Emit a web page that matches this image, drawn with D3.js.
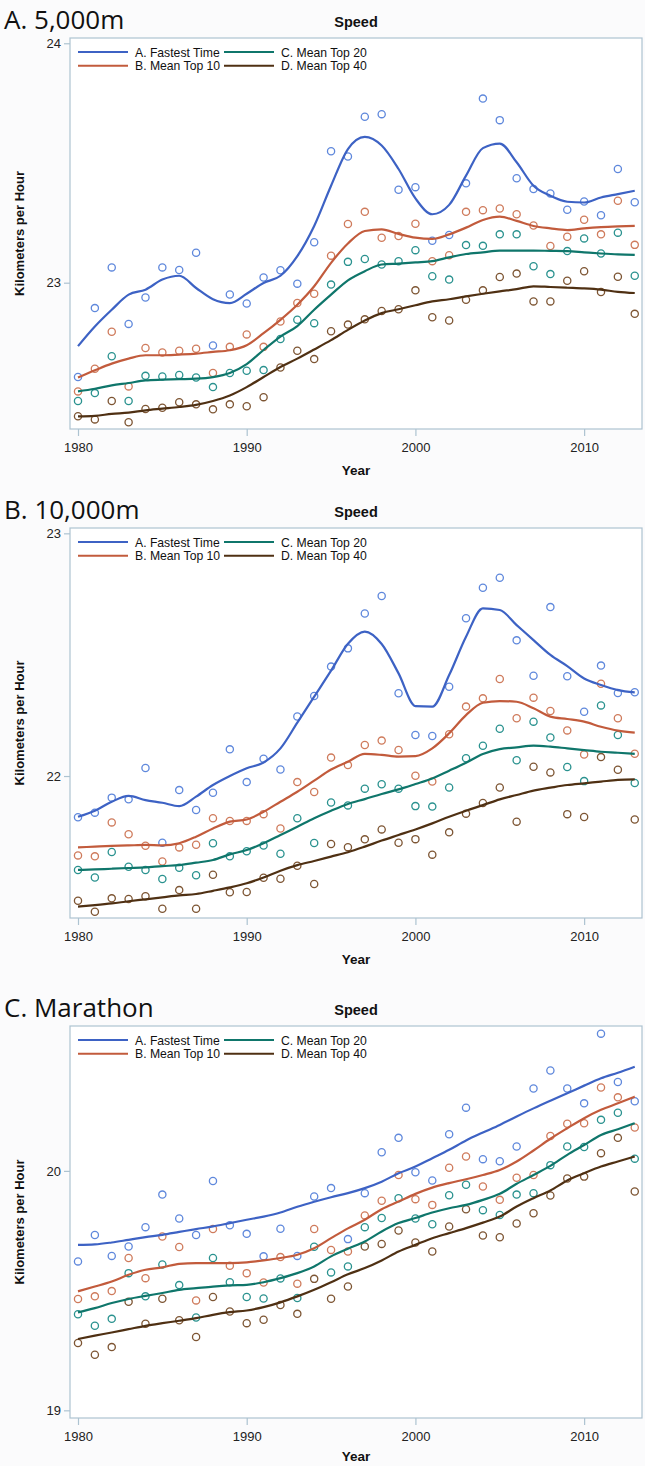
<!DOCTYPE html>
<html><head><meta charset="utf-8">
<script src="https://cdn.jsdelivr.net/npm/d3@7"></script>
<style>
html,body{margin:0;padding:0;background:#fbfbfc;}
svg{display:block;}
</style></head>
<body>
<script>
// ---------- DATA ----------
const years = d3.range(1980, 2014);
const xTicks = [1980, 1990, 2000, 2010];
const seriesNames = ["A. Fastest Time", "B. Mean Top 10", "C. Mean Top 20", "D. Mean Top 40"];

// 5,000m — observed points
const m5k_fastPts = [22.606,22.894,23.064,22.828,22.938,23.064,23.053,23.125,22.738,22.951,22.913,23.022,23.052,22.996,23.169,23.549,23.527,23.693,23.704,23.388,23.399,23.175,23.199,23.415,23.769,23.679,23.436,23.391,23.373,23.305,23.339,23.282,23.475,23.336];
const m5k_top10Pts = [22.546,22.641,22.795,22.567,22.727,22.709,22.716,22.724,22.623,22.732,22.784,22.732,22.838,22.915,22.954,23.113,23.245,23.296,23.188,23.195,23.246,23.090,23.115,23.296,23.303,23.310,23.286,23.239,23.153,23.192,23.263,23.202,23.342,23.158];
const m5k_top20Pts = [22.506,22.539,22.693,22.506,22.611,22.608,22.615,22.604,22.564,22.623,22.632,22.635,22.765,22.845,22.831,22.992,23.087,23.099,23.076,23.090,23.136,23.027,23.013,23.157,23.154,23.202,23.202,23.069,23.036,23.132,23.185,23.122,23.209,23.029];
const m5k_top40Pts = [22.442,22.429,22.506,22.417,22.473,22.478,22.501,22.492,22.471,22.492,22.484,22.522,22.646,22.716,22.681,22.797,22.825,22.847,22.882,22.889,22.968,22.856,22.842,22.929,22.968,23.024,23.038,22.922,22.922,23.008,23.048,22.961,23.025,22.870];
// 5,000m — smoothed curves
const m5k_fastFit = [22.735,22.817,22.887,22.950,22.971,23.013,23.029,22.978,22.931,22.915,22.954,22.999,23.029,23.111,23.237,23.405,23.558,23.609,23.573,23.475,23.352,23.286,23.325,23.447,23.562,23.581,23.503,23.405,23.363,23.338,23.335,23.356,23.370,23.384];
const m5k_top10Fit = [22.604,22.634,22.662,22.683,22.697,22.697,22.700,22.704,22.711,22.718,22.739,22.789,22.845,22.908,22.985,23.083,23.164,23.216,23.223,23.204,23.188,23.183,23.202,23.230,23.262,23.276,23.258,23.237,23.227,23.220,23.227,23.232,23.235,23.237];
const m5k_top20Fit = [22.546,22.557,22.571,22.581,22.592,22.595,22.597,22.599,22.606,22.623,22.660,22.719,22.775,22.819,22.887,22.950,23.010,23.048,23.076,23.080,23.085,23.090,23.106,23.120,23.127,23.134,23.134,23.134,23.133,23.132,23.127,23.122,23.118,23.116];
const m5k_top40Fit = [22.442,22.444,22.452,22.457,22.467,22.474,22.481,22.490,22.506,22.529,22.564,22.606,22.648,22.683,22.721,22.760,22.803,22.842,22.873,22.889,22.906,22.922,22.931,22.943,22.954,22.964,22.973,22.985,22.982,22.979,22.976,22.971,22.962,22.957];

// 10,000m — observed points
const m10k_fastPts = [21.830,21.849,21.911,21.904,22.033,21.725,21.942,21.860,21.931,22.110,21.975,22.071,22.027,22.245,22.330,22.451,22.526,22.670,22.742,22.341,22.169,22.165,22.368,22.650,22.776,22.817,22.559,22.413,22.696,22.411,22.265,22.455,22.342,22.345];
const m10k_top10Pts = [21.673,21.669,21.809,21.760,21.713,21.648,21.706,21.717,21.826,21.815,21.815,21.843,21.784,21.975,21.934,22.076,22.045,22.128,22.146,22.107,22.001,21.977,22.172,22.286,22.320,22.400,22.238,22.323,22.268,22.188,22.089,22.380,22.238,22.092];
const m10k_top20Pts = [21.613,21.582,21.687,21.626,21.613,21.576,21.622,21.591,21.723,21.669,21.690,21.714,21.680,21.826,21.724,21.891,21.879,21.948,21.966,21.948,21.876,21.874,21.953,22.073,22.125,22.195,22.065,22.224,22.159,22.037,21.979,22.291,22.169,21.971];
const m10k_top40Pts = [21.486,21.441,21.496,21.493,21.505,21.453,21.530,21.453,21.593,21.521,21.522,21.581,21.577,21.630,21.555,21.720,21.707,21.739,21.780,21.725,21.740,21.676,21.768,21.845,21.889,21.953,21.812,22.038,22.015,21.843,21.831,22.078,22.026,21.821];
// 10,000m — smoothed curves
const m10k_fastFit = [21.832,21.857,21.894,21.918,21.901,21.890,21.876,21.915,21.963,22.000,22.032,22.056,22.114,22.220,22.327,22.434,22.545,22.595,22.544,22.423,22.288,22.286,22.416,22.574,22.691,22.684,22.622,22.560,22.499,22.453,22.402,22.375,22.354,22.345];
const m10k_top10Fit = [21.706,21.709,21.712,21.714,21.716,21.714,21.723,21.750,21.784,21.812,21.821,21.853,21.894,21.935,21.981,22.027,22.059,22.091,22.087,22.080,22.082,22.114,22.176,22.251,22.302,22.309,22.306,22.279,22.245,22.235,22.224,22.203,22.187,22.179];
const m10k_top20Fit = [21.613,21.615,21.618,21.621,21.624,21.629,21.633,21.643,21.654,21.677,21.695,21.723,21.757,21.791,21.826,21.857,21.885,21.905,21.926,21.945,21.967,21.990,22.022,22.055,22.091,22.111,22.118,22.125,22.121,22.114,22.107,22.100,22.096,22.091];
const m10k_top40Fit = [21.462,21.468,21.475,21.484,21.492,21.500,21.508,21.514,21.527,21.541,21.558,21.582,21.610,21.633,21.650,21.668,21.686,21.709,21.734,21.757,21.780,21.805,21.832,21.857,21.880,21.904,21.922,21.940,21.952,21.963,21.970,21.977,21.984,21.986];

// Marathon — observed points
const mar_fastPts = [19.622,19.732,19.645,19.684,19.765,19.901,19.801,19.732,19.958,19.773,19.737,19.643,19.758,19.645,19.893,19.928,19.715,19.907,20.078,20.138,19.994,19.960,20.153,20.264,20.049,20.040,20.102,20.344,20.419,20.344,20.282,20.573,20.371,20.291];
const mar_top10Pts = [19.465,19.476,19.498,19.636,19.552,19.726,19.682,19.459,19.757,19.604,19.573,19.534,19.640,19.529,19.757,19.670,19.663,19.814,19.875,19.983,19.882,19.858,20.013,20.060,19.935,19.879,19.971,19.983,20.146,20.197,20.199,20.348,20.307,20.181];
const mar_top20Pts = [19.401,19.353,19.382,19.573,19.476,19.609,19.523,19.388,19.636,19.535,19.473,19.467,19.551,19.469,19.683,19.576,19.601,19.765,19.803,19.886,19.801,19.777,19.898,19.942,19.836,19.816,19.901,19.907,20.024,20.102,20.100,20.213,20.243,20.051];
const mar_top40Pts = [19.281,19.232,19.264,19.453,19.362,19.466,19.376,19.306,19.473,19.413,19.364,19.378,19.440,19.403,19.549,19.466,19.517,19.684,19.695,19.751,19.701,19.663,19.768,19.840,19.730,19.723,19.780,19.823,19.897,19.968,19.976,20.074,20.138,19.914];
// Marathon — smoothed curves
const mar_fastFit = [19.691,19.693,19.701,19.712,19.723,19.733,19.745,19.757,19.768,19.782,19.796,19.809,19.826,19.850,19.871,19.890,19.907,19.928,19.955,19.990,20.018,20.053,20.088,20.127,20.160,20.192,20.227,20.261,20.293,20.324,20.356,20.387,20.410,20.435];
const mar_top10Fit = [19.497,19.517,19.538,19.566,19.587,19.597,19.612,19.615,19.615,19.615,19.618,19.626,19.636,19.650,19.677,19.719,19.760,19.796,19.840,19.872,19.904,19.930,19.949,19.965,19.983,20.004,20.039,20.085,20.134,20.178,20.220,20.255,20.282,20.310];
const mar_top20Fit = [19.409,19.427,19.448,19.465,19.478,19.490,19.503,19.510,19.517,19.522,19.524,19.535,19.552,19.573,19.601,19.643,19.675,19.705,19.747,19.782,19.803,19.826,19.844,19.858,19.879,19.904,19.946,19.983,20.021,20.067,20.108,20.150,20.174,20.199];
const mar_top40Fit = [19.298,19.312,19.325,19.339,19.353,19.364,19.374,19.385,19.399,19.410,19.417,19.431,19.451,19.476,19.504,19.535,19.568,19.594,19.626,19.663,19.691,19.719,19.740,19.761,19.784,19.809,19.851,19.886,19.918,19.960,19.990,20.018,20.039,20.060];

// panel titles, y domains (frame extent) and y ticks
const panelTitles = ["A. 5,000m", "B. 10,000m", "C. Marathon"];
const yDomains = [[22.389, 24.022], [21.415, 23.022], [18.968, 20.605]];
const yTicks = [[23, 24], [22, 23], [19, 20]];

// ---------- STYLE / LAYOUT ----------
const W = 645, H = 1466;
const lineColors = ["#3d62c4", "#c25b3c", "#0f766b", "#4f3013"];
const markColors = ["#5f88dc", "#cf7b5c", "#2a928f", "#7d5533"];
const frames = [{top: 38, bottom: 429, yearOff: 46}, {top: 528, bottom: 918, yearOff: 46}, {top: 1026, bottom: 1418, yearOff: 43}];
const fLeft = 70, fRight = 642;
const font = "'Liberation Sans', Arial, sans-serif";

const panels = [
  {pts: [m5k_fastPts, m5k_top10Pts, m5k_top20Pts, m5k_top40Pts], fit: [m5k_fastFit, m5k_top10Fit, m5k_top20Fit, m5k_top40Fit]},
  {pts: [m10k_fastPts, m10k_top10Pts, m10k_top20Pts, m10k_top40Pts], fit: [m10k_fastFit, m10k_top10Fit, m10k_top20Fit, m10k_top40Fit]},
  {pts: [mar_fastPts, mar_top10Pts, mar_top20Pts, mar_top40Pts], fit: [mar_fastFit, mar_top10Fit, mar_top20Fit, mar_top40Fit]}
];

const svg = d3.select("body").append("svg").attr("width", W).attr("height", H);
svg.append("rect").attr("width", W).attr("height", H).attr("fill", "#fbfbfc");

const x = d3.scaleLinear().domain([1979.526, 2013.43]).range([fLeft, fRight]);

panels.forEach((p, pi) => {
  const fr = frames[pi];
  const y = d3.scaleLinear().domain(yDomains[pi]).range([fr.bottom, fr.top]);
  const g = svg.append("g");

  // panel title
  g.append("text").attr("x", 4).attr("y", fr.top - 9)
    .attr("font-family", "'Open Sans', 'Noto Sans', sans-serif").attr("font-size", 26)
    .attr("fill", "#111").text(panelTitles[pi]);
  // chart title
  g.append("text").attr("x", (fLeft + fRight) / 2).attr("y", fr.top - 11)
    .attr("text-anchor", "middle").attr("font-family", font).attr("font-weight", "bold")
    .attr("font-size", 14.5).attr("fill", "#111").text("Speed");

  // frame
  g.append("rect").attr("x", fLeft).attr("y", fr.top).attr("width", fRight - fLeft)
    .attr("height", fr.bottom - fr.top).attr("fill", "#ffffff")
    .attr("stroke", "#adc3d1").attr("stroke-width", 1.2);

  // axes
  const yAxis = d3.axisLeft(y).tickValues(yTicks[pi]).tickSize(6).tickPadding(3).tickFormat(d3.format("d"));
  const ya = g.append("g").attr("transform", `translate(${fLeft},0)`).call(yAxis);
  const xAxis = d3.axisBottom(x).tickValues(xTicks).tickSize(7).tickPadding(7).tickFormat(d3.format("d"));
  const xa = g.append("g").attr("transform", `translate(0,${fr.bottom})`).call(xAxis);
  [ya, xa].forEach(a => {
    a.select(".domain").remove();
    a.selectAll(".tick line").attr("stroke", "#adc3d1").attr("stroke-width", 1.2);
    a.selectAll(".tick text").attr("font-family", font).attr("font-size", 13).attr("fill", "#222");
  });

  // axis labels
  g.append("text").attr("x", (fLeft + fRight) / 2).attr("y", fr.bottom + fr.yearOff)
    .attr("text-anchor", "middle").attr("font-family", font).attr("font-weight", "bold")
    .attr("font-size", 13.5).attr("fill", "#111").text("Year");
  const cy = (fr.top + fr.bottom) / 2;
  g.append("text").attr("transform", `translate(24,${cy}) rotate(-90)`)
    .attr("text-anchor", "middle").attr("font-family", font).attr("font-weight", "bold")
    .attr("font-size", 13).attr("fill", "#111").text("Kilometers per Hour");

  // markers
  p.pts.forEach((arr, si) => {
    g.append("g").selectAll("circle").data(arr).join("circle")
      .attr("cx", (d, i) => x(years[i])).attr("cy", d => y(d)).attr("r", 3.6)
      .attr("fill", "none").attr("stroke", markColors[si]).attr("stroke-width", 1.3);
  });
  // fitted lines
  const line = d3.line().x((d, i) => x(years[i])).y(d => y(d)).curve(d3.curveMonotoneX);
  p.fit.forEach((arr, si) => {
    g.append("path").attr("d", line(arr)).attr("fill", "none")
      .attr("stroke", lineColors[si]).attr("stroke-width", 2.2).attr("stroke-linejoin", "round");
  });

  // legend
  const lg = g.append("g");
  seriesNames.forEach((nm, si) => {
    const col = si < 2 ? 0 : 1, row = si % 2;
    const lx = fLeft + 8 + col * 146, ly = fr.top + 14 + row * 13.7;
    lg.append("line").attr("x1", lx).attr("x2", lx + 50).attr("y1", ly).attr("y2", ly)
      .attr("stroke", lineColors[si]).attr("stroke-width", 2);
    lg.append("text").attr("x", lx + 57).attr("y", ly + 4.5).attr("font-family", font)
      .attr("font-size", 12.2).attr("fill", "#111").text(nm);
  });
});
</script>
</body></html>
